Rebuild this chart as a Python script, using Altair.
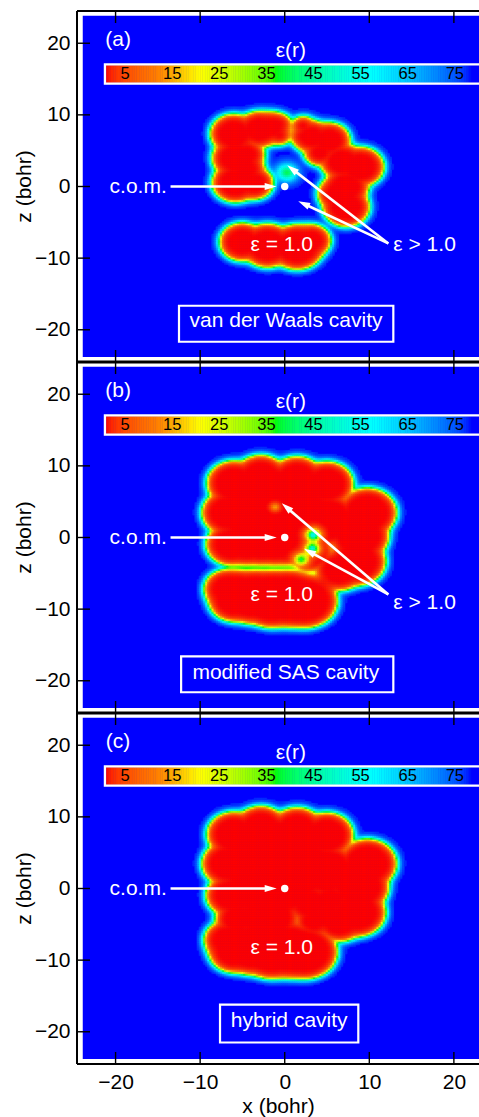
import numpy as np
import pandas as pd
import altair as alt

FONT = "Liberation Sans"
STEP = 0.25
X_MIN, X_MAX = -24.56, 22.97
Y_HALF = 73.5
PANELS = ["a", "b", "c"]
PANEL_OFFSET = {"a": 49.0, "b": 0.0, "c": -49.0}
AXIS_TICKS = [-20, -10, 0, 10, 20]
EPS_IN, EPS_OUT = 1.0, 78.4
EDGE_W = 0.2      # width of the dielectric switching region (bohr)
EDGE_SHIFT = 0.35 # switching centre outside the sphere surface (bohr)
SMOOTH_K = 0.22   # smooth union of spheres
PX_X = 402 / (X_MAX - X_MIN)
PX_Y = 1053 / (2 * Y_HALF)

# ---------------- cavity cross-sections (x, z, radius, group) ----------------
a_cx = [-6.0, -3.0, -1.5, -0.6, -0.6, -5.8, -4.5, -5.8, -3.6, -4.5,
        3.2, 2.2, 2.2, 5.3, 6.8, 9.0, 7.3, 7.3, 6.2, 4.2,
        -5.0, -2.0, 1.5, 3.2]
a_cz = [7.4, 8.0, 8.3, 8.8, 7.2, 4.0, 4.5, 0.6, 0.5, 2.5,
        7.0, 8.5, 7.0, 6.5, 3.5, 2.8, 0.0, -2.8, -1.0, 4.8,
        -7.7, -8.2, -8.4, -7.5]
a_r = [2.5, 2.3, 1.9, 1.05, 1.05, 2.5, 1.9, 2.5, 2.0, 1.9,
       2.0, 1.05, 1.05, 2.2, 2.3, 2.5, 2.4, 2.5, 2.0, 1.6,
       2.4, 2.8, 2.9, 2.0]
a_grp = [0] * 10 + [1] * 10 + [2] * 4
a_spot_x, a_spot_z, a_spot_s, a_spot_a = [0.3], [2.0], [1.2], [-0.5]

b_cx = [-1.0, -6.0, -2.8, 1.5, 5.0, 9.8, 8.8, 8.6, 6.5, -6.6, -6.3, -4.5, -2.8, -1.2, 0.3, 3.0, 5.0,
        -6.8, -5.5, -3.5, -1.5, 0.5, 2.5, -6.0, -4.0, 0.8]
b_cz = [3.5, 7.6, 8.5, 8.3, 7.5, 3.5, 0.3, -3.3, -4.5, 3.5, -0.9, -1.1, -1.1, -1.2, -1.4, -2.0, 2.5,
        -7.1, -7.9, -7.7, -8.5, -8.2, -8.8, -8.8, -8.9, -8.7]
b_r = [6.5, 2.9, 2.8, 2.8, 2.9, 3.2, 3.3, 3.1, 2.6, 2.9, 2.7, 2.5, 2.5, 2.4, 2.2, 2.5, 3.5,
       2.4, 3.2, 3.0, 3.8, 3.5, 3.5, 2.6, 2.8, 3.5]
b_grp = [0] * 17 + [1] * 9
b_spot_x = [3.4, 3.3, 2.0, -1.1]
b_spot_z = [0.4, -1.5, -3.0, 4.3]
b_spot_s = [0.8, 0.8, 0.8, 0.5]
b_spot_a = [0.7, 0.65, 0.5, 0.18]

c_cx = b_cx + [-5.5, -2.0, 3.5, 5.5, 5.0]
c_cz = b_cz + [-4.2, -4.0, -4.5, -1.5, -3.8]
c_r = b_r + [2.4, 3.5, 2.0, 2.2, 2.0]
c_grp = [0] * (len(b_cx) + 5)
c_spot_x, c_spot_z, c_spot_s, c_spot_a = [], [], [], []

CAVITY = {
    "a": (a_cx, a_cz, a_r, a_grp, a_spot_x, a_spot_z, a_spot_s, a_spot_a),
    "b": (b_cx, b_cz, b_r, b_grp, b_spot_x, b_spot_z, b_spot_s, b_spot_a),
    "c": (c_cx, c_cz, c_r, c_grp, c_spot_x, c_spot_z, c_spot_s, c_spot_a),
}

# ---------------- annotations (bohr, panel-relative z) ----------------
panel_tag = ["(a)", "(b)", "(c)"]
tag_x, tag_z = -19.7, 20.5
cb_title, cb_title_x, cb_title_z = "ε(r)", 0.72, 18.9
cb_ticks = [5, 15, 25, 35, 45, 55, 65, 75]
CB_X5, CB_SCALE = -18.88, 0.557
cb_z_lo, cb_z_hi, cb_label_z = 14.5, 16.9, 15.66

com_text_x, com_text_z = -13.95, 0.0
com_arrow_x0, com_arrow_x1 = -13.5, -0.95
eps1_x = -0.35
eps1_z = [-8.2, -8.06, -8.3]
epsgt_x = 12.84
epsgt_z = [-8.2, -9.1, None]
gt_start = (12.25, -7.95)
gt_tips = {"a": [(0.3, 2.97), (1.6, -2.05)], "b": [(-0.35, 4.78), (2.28, -1.58)], "c": []}

box_text = ["van der Waals cavity", "modified SAS cavity", "hybrid cavity"]
box_x1 = [-12.5, -12.25, -7.65]
box_x2 = [12.84, 12.84, 8.7]
box_z1 = [-16.65, -16.6, -16.2]
box_z2 = [-21.67, -21.6, -21.5]
box_tx = [0.15, 0.13, 0.53]
box_tz = [-18.82, -18.9, -18.5]


def cb_x(e):
    return CB_X5 + (np.asarray(e) - 5) * CB_SCALE


# ---------------- dielectric field on a grid ----------------
gx = np.arange(-13.0, 15.0 + 1e-9, STEP)
gz = np.arange(-14.0, 13.5 + 1e-9, STEP)
XX, ZZ = np.meshgrid(gx, gz)


def eps_field(cx, cz, cr, cg, sx, sz, ss, sa):
    P = np.ones_like(XX)
    for g in sorted(set(cg)):
        acc = np.zeros_like(XX)
        for x0, z0, r0, g0 in zip(cx, cz, cr, cg):
            if g0 == g:
                di = np.hypot(XX - x0, ZZ - z0) - r0
                acc += np.exp(-np.clip(di, -8, 8) / SMOOTH_K)
        d = -SMOOTH_K * np.log(acc + 1e-300)
        P *= 1.0 / (1.0 + np.exp(-(d - EDGE_SHIFT) / EDGE_W))
    for x0, z0, s0, a0 in zip(sx, sz, ss, sa):
        P += a0 * np.exp(-((XX - x0) ** 2 + (ZZ - z0) ** 2) / s0 ** 2)
    P = np.clip(P, 0, 1)
    return EPS_IN + (EPS_OUT - EPS_IN) * P


cells = []
bg_rows, cb_rows, cbl_rows = [], [], []
txt_c, txt_r, txt_l, boxes, arrows, heads, dots = [], [], [], [], [], [], []
eps_steps = np.arange(1.0, 78.4, 0.5)


def add_arrow(x0, z0, x1, z1, off):
    dxp = (x1 - x0) * PX_X
    dyp = -(z1 - z0) * PX_Y
    L = np.hypot(dxp, dyp)
    ux, uy = dxp / L, dyp / L
    hx = x1 - 6 * ux / PX_X
    hz = z1 + 6 * uy / PX_Y
    ang = float(np.degrees(np.arctan2(dxp, -dyp)) % 360)
    arrows.append(dict(x=x0, y=z0 + off, x2=hx, y2=hz + off))
    heads.append(dict(x=hx, y=hz + off, angle=ang))


for i, k in enumerate(PANELS):
    off = PANEL_OFFSET[k]
    E = eps_field(*CAVITY[k])
    m = E < 77.6
    df = pd.DataFrame({
        "x1": np.round(XX[m] - STEP / 2, 3), "x2": np.round(XX[m] + STEP / 2, 3),
        "y1": np.round(ZZ[m] - STEP / 2 + off, 3), "y2": np.round(ZZ[m] + STEP / 2 + off, 3),
        "eps": np.round(E[m], 2)})
    cells.append(df)
    bg_rows.append(dict(x1=-23.88, x2=26.0, y1=off - 23.8, y2=off + 23.85))
    for e in eps_steps:
        e2 = min(e + 0.5, 78.4)
        cb_rows.append(dict(x1=float(cb_x(e)), x2=float(cb_x(e2)), y1=cb_z_lo + off,
                            y2=cb_z_hi + off, eps=(e + e2) / 2))
    for t in cb_ticks:
        cbl_rows.append(dict(x=float(cb_x(t)), y=cb_label_z + off, text=str(t)))
    txt_c.append(dict(x=tag_x, y=tag_z + off, text=panel_tag[i]))
    txt_c.append(dict(x=cb_title_x, y=cb_title_z + off, text=cb_title))
    txt_c.append(dict(x=eps1_x, y=eps1_z[i] + off, text="ε = 1.0"))
    txt_c.append(dict(x=box_tx[i], y=box_tz[i] + off, text=box_text[i]))
    txt_r.append(dict(x=com_text_x, y=com_text_z + off, text="c.o.m."))
    if epsgt_z[i] is not None:
        txt_l.append(dict(x=epsgt_x, y=epsgt_z[i] + off, text="ε > 1.0"))
    boxes.append(dict(x1=box_x1[i], x2=box_x2[i], y1=box_z1[i] + off, y2=box_z2[i] + off))
    add_arrow(com_arrow_x0, 0.0, com_arrow_x1, 0.0, off)
    for tx, tz in gt_tips[k]:
        add_arrow(gt_start[0], gt_start[1], tx, tz, off)
    dots.append(dict(x=0.0, y=off))

cells = pd.concat(cells, ignore_index=True)
cb_frame = pd.DataFrame([dict(x1=float(cb_x(1.0)) - 0.15, x2=26.0,
                              y1=cb_z_lo + PANEL_OFFSET[k] - 0.15,
                              y2=cb_z_hi + PANEL_OFFSET[k] + 0.15) for k in PANELS])

boundaries = [Y_HALF, 24.5, -24.5, -Y_HALF]
tick_len = 12 / PX_Y
xt_rows = []
for b in boundaries:
    lo = b - tick_len if b > -Y_HALF else b
    hi = b + tick_len if b < Y_HALF else b
    for t in AXIS_TICKS:
        xt_rows.append(dict(x=t, y1=lo, y2=hi))
yt_rows = [dict(y=t + PANEL_OFFSET[k]) for k in PANELS for t in AXIS_TICKS]
frame_rows = [dict(y=b, w=(2.0 if abs(b) == Y_HALF else 3.0)) for b in boundaries]
ztitle_rows = [dict(y=PANEL_OFFSET[k], text="z (bohr)") for k in PANELS]

xs = alt.Scale(domain=[X_MIN, X_MAX], nice=False, zero=False)
ys = alt.Scale(domain=[-Y_HALF, Y_HALF], nice=False, zero=False)
cscale = alt.Scale(domain=[1, 12, 21, 37, 58, 78.4],
                   range=["#ff0000", "#ff8000", "#ffff00", "#00ff00", "#00ffff", "#0000ff"],
                   clamp=True)

y_label_expr = ("replace(format(datum.value > 24.5 ? datum.value - 49 : "
                "(datum.value < -24.5 ? datum.value + 49 : datum.value), 'd'), '-', '\u2212')")


def X(f, **kw):
    return alt.X(f, type="quantitative", scale=xs, **kw)


def Y(f, **kw):
    return alt.Y(f, type="quantitative", scale=ys, **kw)


background = alt.Chart(pd.DataFrame(bg_rows)).mark_rect(color="#0000ff").encode(
    x=X("x1", axis=alt.Axis(values=AXIS_TICKS, title="x (bohr)",
                            labelExpr="replace(format(datum.value, 'd'), '-', '\u2212')")),
    x2="x2",
    y=Y("y1", axis=alt.Axis(values=[r["y"] for r in yt_rows], title=None,
                            labelExpr=y_label_expr)),
    y2="y2")

heat = alt.Chart(cells).mark_rect(strokeWidth=0.6).encode(
    x=X("x1"), x2="x2", y=Y("y1"), y2="y2",
    color=alt.Color("eps:Q", scale=cscale, legend=None),
    stroke=alt.Stroke("eps:Q", scale=cscale, legend=None))

cbar = alt.Chart(pd.DataFrame(cb_rows)).mark_rect(strokeWidth=0.6).encode(
    x=X("x1"), x2="x2", y=Y("y1"), y2="y2",
    color=alt.Color("eps:Q", scale=cscale, legend=None),
    stroke=alt.Stroke("eps:Q", scale=cscale, legend=None))

cbar_frame = alt.Chart(cb_frame).mark_rect(filled=False, stroke="white", strokeWidth=2.3).encode(
    x=X("x1"), x2="x2", y=Y("y1"), y2="y2")

cbar_labels = alt.Chart(pd.DataFrame(cbl_rows)).mark_text(
    font=FONT, fontSize=16.5, color="black", baseline="middle", align="center").encode(
    x=X("x"), y=Y("y"), text="text:N")

t_center = alt.Chart(pd.DataFrame(txt_c)).mark_text(
    font=FONT, fontSize=21, color="white", baseline="middle", align="center").encode(
    x=X("x"), y=Y("y"), text="text:N")
t_right = alt.Chart(pd.DataFrame(txt_r)).mark_text(
    font=FONT, fontSize=21, color="white", baseline="middle", align="right").encode(
    x=X("x"), y=Y("y"), text="text:N")
t_left = alt.Chart(pd.DataFrame(txt_l)).mark_text(
    font=FONT, fontSize=21, color="white", baseline="middle", align="left").encode(
    x=X("x"), y=Y("y"), text="text:N")

box_marks = alt.Chart(pd.DataFrame(boxes)).mark_rect(filled=False, stroke="white", strokeWidth=2.2).encode(
    x=X("x1"), x2="x2", y=Y("y1"), y2="y2")

arrow_lines = alt.Chart(pd.DataFrame(arrows)).mark_rule(color="white", strokeWidth=2.6).encode(
    x=X("x"), x2="x2", y=Y("y"), y2="y2")
arrow_heads = alt.Chart(pd.DataFrame(heads)).mark_point(
    shape="M0,-1L0.6,1L-0.6,1Z", filled=True, color="white", size=144, opacity=1).encode(
    x=X("x"), y=Y("y"), angle=alt.Angle("angle:Q", scale=None))
dot = alt.Chart(pd.DataFrame(dots)).mark_circle(color="white", size=55, opacity=1).encode(
    x=X("x"), y=Y("y"))

x_ticks = alt.Chart(pd.DataFrame(xt_rows)).mark_rule(color="black", strokeWidth=1.4).encode(
    x=X("x"), y=Y("y1"), y2="y2")
y_ticks = alt.Chart(pd.DataFrame(yt_rows)).mark_rule(color="black", strokeWidth=1.4).encode(
    y=Y("y"), x=alt.value(0), x2=alt.value(13))
h_frame = alt.Chart(pd.DataFrame(frame_rows)).mark_rule(color="black").encode(
    y=Y("y"), x=alt.value(0), x2=alt.value(402),
    strokeWidth=alt.StrokeWidth("w:Q", scale=None))
v_frame = alt.Chart(pd.DataFrame({"y": [Y_HALF], "y2": [-Y_HALF]})).mark_rule(
    color="black", strokeWidth=2).encode(x=alt.value(0), y=Y("y"), y2="y2")
z_titles = alt.Chart(pd.DataFrame(ztitle_rows)).mark_text(
    font=FONT, fontSize=21, color="black", angle=270, baseline="middle", align="center").encode(
    x=alt.value(-52), y=Y("y"), text="text:N")

chart = alt.layer(
    background, heat, cbar, cbar_frame, cbar_labels, t_center, t_right, t_left,
    box_marks, arrow_lines, arrow_heads, dot, x_ticks, y_ticks, h_frame, v_frame, z_titles
).properties(
    width=402, height=1053,
    background="white",
    autosize=alt.AutoSizeParams(type="none"),
    padding={"left": 77, "top": 11, "right": 0, "bottom": 53},
).configure_view(strokeWidth=0).configure_axis(
    grid=False, domain=False, ticks=False, tickSize=0,
    labelFont=FONT, labelFontSize=21, labelColor="black", labelPadding=7,
    titleFont=FONT, titleFontSize=21, titleFontWeight="normal", titleColor="black", titlePadding=3,
)

chart.save("out.html", embed_options={"renderer": "svg", "actions": False})
